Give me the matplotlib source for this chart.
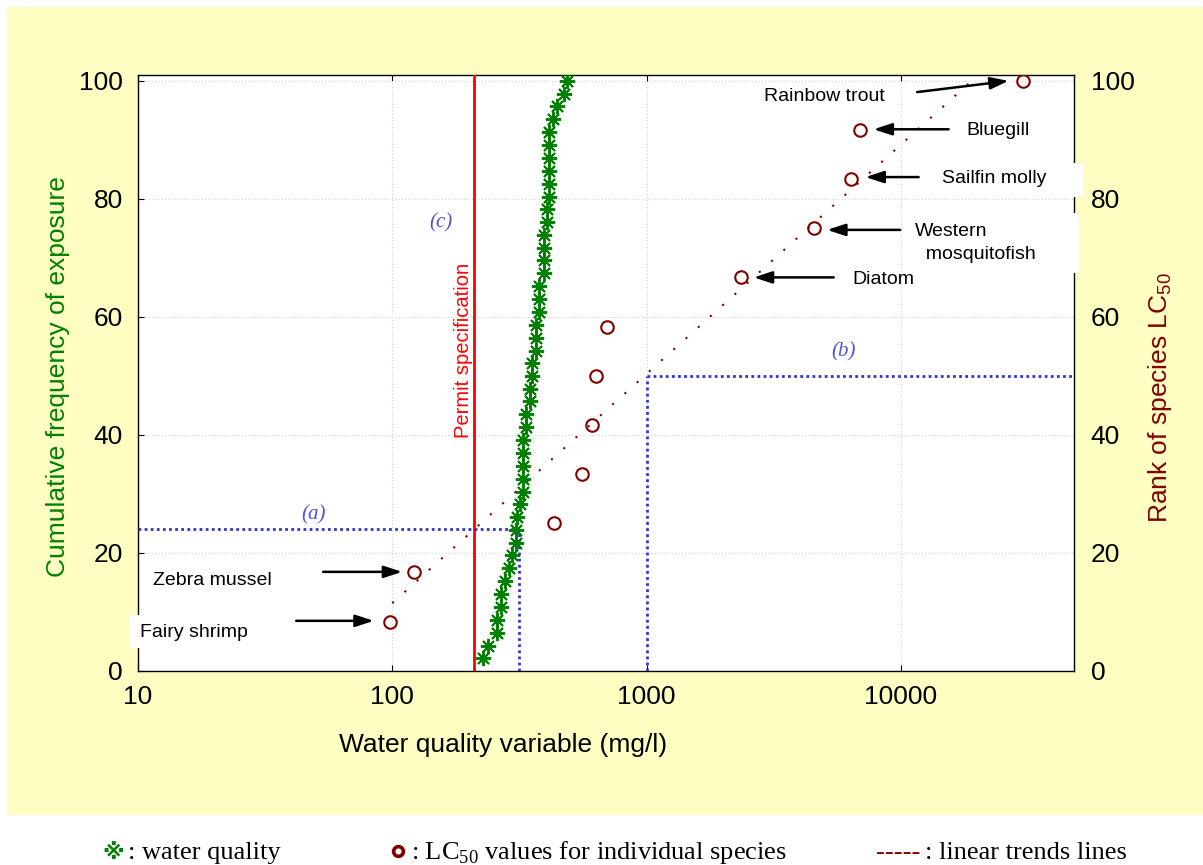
import matplotlib
matplotlib.use("Agg")
import matplotlib.pyplot as plt
from matplotlib.patches import Rectangle
from matplotlib.lines import Line2D

# measured water quality (mg/l), sorted, and cumulative frequency of exposure (%)
wq_conc = [227, 238, 258, 259, 267, 267, 277, 288, 296, 306, 308, 309,
           318, 327, 327, 328, 328, 328, 336, 336, 347, 347, 356, 356,
           368, 368, 368, 377, 377, 377, 396, 396, 396, 396, 405, 405,
           414, 414, 414, 414, 414, 414, 427, 444, 475, 485]
wq_freq = [2.2, 4.3, 6.5, 8.7, 10.9, 13.0, 15.2, 17.4, 19.6, 21.7, 23.9, 26.1,
           28.3, 30.4, 32.6, 34.8, 37.0, 39.1, 41.3, 43.5, 45.7, 47.8, 50.0, 52.2,
           54.3, 56.5, 58.7, 60.9, 63.0, 65.2, 67.4, 69.6, 71.7, 73.9, 76.1, 78.3,
           80.4, 82.6, 84.8, 87.0, 89.1, 91.3, 93.5, 95.7, 97.8, 100.0]

# LC50 per species (mg/l) and species rank (%)
species = ["Fairy shrimp", "Zebra mussel", "", "", "", "", "",
           "Diatom", "Western\n  mosquitofish", "Sailfin molly", "Bluegill", "Rainbow trout"]
lc50 = [98, 122, 432, 558, 611, 635, 700, 2356, 4546, 6383, 6890, 30200]
rank = [8.3, 16.7, 25.0, 33.3, 41.7, 50.0, 58.3, 66.7, 75.0, 83.3, 91.7, 100.0]

# linear trend through the species ranks
trend_x = [100, 21000]
trend_y = [11.5, 101.7]

permit = 210          # permit specification (mg/l)
conc_a, freq_a = 316, 24
conc_b, rank_b = 1000, 50

GREEN = "#008000"
DARKRED = "#800000"
BLUE = "#3333cc"
LABELBLUE = "#5050d8"
YELLOW = "#fffec2"
SANS = "Liberation Sans"
SERIF = "Liberation Serif"

fig = plt.figure(figsize=(12.03, 8.65), dpi=100)
fig.patch.set_facecolor("white")
fig.add_artist(Rectangle((0.0058, 0.0578), 1.0, 0.9342, transform=fig.transFigure,
                         facecolor=YELLOW, edgecolor="none", zorder=-10))

ax = fig.add_axes([0.1147, 0.2243, 0.7781, 0.6890])
ax.set_xscale("log")
ax.set_xlim(10, 48000)
ax.set_ylim(0, 101)
ax.set_xticks([10, 100, 1000, 10000])
ax.set_xticklabels(["10", "100", "1000", "10000"])
ax.xaxis.set_minor_locator(matplotlib.ticker.NullLocator())
ax.set_yticks([0, 20, 40, 60, 80, 100])
ax.grid(True, which="major", color="#d0d0d0", linestyle=(0, (1, 2)), linewidth=0.8)
ax.tick_params(axis="both", direction="in", length=4, width=0.8,
               top=True, right=True, labelsize=19)
ax.tick_params(axis="x", pad=10)
ax.tick_params(axis="y", pad=11)
for lab in ax.get_xticklabels() + ax.get_yticklabels():
    lab.set_fontfamily(SANS)
for sp in ax.spines.values():
    sp.set_linewidth(1.0)

# right-hand labels for species rank
ax2 = ax.twinx()
ax2.set_ylim(0, 101)
ax2.set_yticks([0, 20, 40, 60, 80, 100])
ax2.set_frame_on(False)
ax2.tick_params(axis="y", length=0, pad=12, labelsize=19)
for lab in ax2.get_yticklabels():
    lab.set_fontfamily(SANS)
ax2.set_zorder(-1)

ax.text(0.39, -0.124, "Water quality variable (mg/l)", transform=ax.transAxes,
        ha="center", va="center", fontsize=19, family=SANS)
ax.text(-0.0855, 0.494, "Cumulative frequency of exposure", transform=ax.transAxes,
        ha="center", va="center", rotation=90, fontsize=19, family=SANS, color=GREEN)
ax.text(1.092, 0.458, r"Rank of species LC$_{\mathregular{50}}$", transform=ax.transAxes,
        ha="center", va="center", rotation=90, fontsize=19, family=SANS, color=DARKRED)

# permit line and reading guides
ax.axvline(permit, color="red", linewidth=2.0, zorder=3)
ax.text(190, 54.4, "Permit specification", rotation=90, ha="center", va="center",
        fontsize=14.5, family=SANS, color="red")
guide = dict(color=BLUE, linewidth=2.0, linestyle=(0, (1, 1.2)), zorder=3)
ax.plot([10, conc_a], [freq_a, freq_a], **guide)
ax.plot([conc_a, conc_a], [0, freq_a], **guide)
ax.plot([conc_b, 48000], [rank_b, rank_b], **guide)
ax.plot([conc_b, conc_b], [0, rank_b], **guide)
ax.text(49, 26.5, "(a)", ha="center", va="center", fontsize=15, family=SERIF,
        style="italic", color=LABELBLUE)
ax.text(5970, 54, "(b)", ha="center", va="center", fontsize=15, family=SERIF,
        style="italic", color=LABELBLUE)
ax.text(155, 76, "(c)", ha="center", va="center", fontsize=15, family=SERIF,
        style="italic", color=LABELBLUE)

# data
ax.plot(trend_x, trend_y, color=DARKRED, linewidth=1.5, linestyle=(0, (1, 6.9)), zorder=4)
ax.plot(wq_conc, wq_freq, linestyle="none", marker=(8, 2, 0), markersize=11,
        markeredgewidth=1.4, color=GREEN, zorder=5)
ax.plot(lc50, rank, linestyle="none", marker="o", markersize=9, markeredgewidth=1.5,
        markerfacecolor="none", markeredgecolor=DARKRED, zorder=5)

# white boxes behind labels that run over the frame
for x0, y0, x1, y1 in [(0.8408, 0.7958, 1.0096, 0.8528),
                       (0.8194, 0.6683, 1.0053, 0.7685),
                       (-0.0096, 0.0381, 0.125, 0.0940)]:
    ax.add_patch(Rectangle((x0, y0), x1 - x0, y1 - y0, transform=ax.transAxes,
                           facecolor="white", edgecolor="none", clip_on=False, zorder=2.6))

# species callouts: text position, arrow start, arrow tip
callouts = {
    0: ((16.65, 6.5), (41.9, 8.5), (84.6, 8.5), "center"),
    1: ((19.6, 15.25), (53.5, 16.8), (109.4, 16.8), "center"),
    7: ((8503, 66.3), (5446, 66.7), (2640, 66.7), "center"),
    8: ((11400, 72.6), (9950, 74.75), (5130, 74.75), "left"),
    9: ((23330, 83.5), (11750, 83.7), (7261, 83.7), "center"),
    10: ((24200, 91.6), (15420, 91.8), (7816, 91.8), "center"),
    11: ((5006, 97.3), (11590, 98.1), (26550, 100), "center"),
}
for i, (txy, start, tip, ha) in callouts.items():
    ax.text(txy[0], txy[1], species[i], ha=ha, va="center", fontsize=14, family=SANS,
            zorder=6, clip_on=False, linespacing=1.45)
    ax.annotate("", xy=tip, xytext=start,
                arrowprops=dict(arrowstyle="-|>,head_length=0.55,head_width=0.18",
                                mutation_scale=20, lw=1.8, color="black",
                                shrinkA=0, shrinkB=0), zorder=6)

# key below the chart
base = 0.0075
fig.text(113 / 1203, base, "\u203b", ha="center", va="baseline", fontsize=16,
         color=GREEN, family=["DejaVu Sans"], weight="bold")
fig.text(128 / 1203, base, ": water quality", ha="left", va="baseline", fontsize=19, family=SERIF)
fig.add_artist(Line2D([398 / 1203], [0.0162], transform=fig.transFigure, marker="o",
                      markersize=7, markeredgewidth=2.6, markerfacecolor="none",
                      markeredgecolor=DARKRED, linestyle="none"))
fig.text(411 / 1203, base, r": LC$_{\mathregular{50}}$ values for individual species",
         ha="left", va="baseline", fontsize=19, family=SERIF)
fig.text(1127 / 1203, base, ": linear trends lines", ha="right", va="baseline",
         fontsize=19, family=SERIF)
fig.text(920 / 1203, base, "-----", ha="right", va="baseline", fontsize=19,
         family=SERIF, color=DARKRED)

fig.savefig("out.png", dpi=100)
